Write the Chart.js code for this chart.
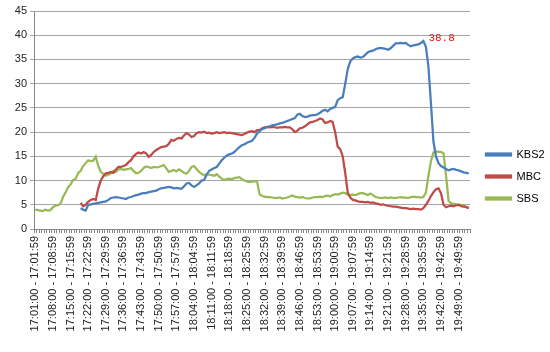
<!DOCTYPE html>
<html>
<head>
<meta charset="utf-8">
<script src="https://cdn.jsdelivr.net/npm/chart.js@4"></script>
<style>
html,body{margin:0;padding:0;background:#fff;}
#wrap{width:550px;height:352px;position:relative;}
</style>
</head>
<body>
<div id="wrap"><canvas id="c" width="550" height="352"></canvas></div>
<script>
// Categories: one per minute, 17:01 .. 19:53
const startMinute = 17 * 60 + 1;
const categoryCount = 173;
const tickEvery = 7;
const categories = [];
for (let k = 0; k < categoryCount; k++) {
  const m = startMinute + k;
  const hh = String(Math.floor(m / 60)).padStart(2, '0');
  const mm = String(m % 60).padStart(2, '0');
  categories.push(hh + ':' + mm + ':00 - ' + hh + ':' + mm + ':59');
}

const yTicks = [0, 5, 10, 15, 20, 25, 30, 35, 40, 45];

const kbs2 = [
  null,null,null,null,null,null,null,null,null,null,
  null,null,null,null,null,null,null,null,4.3,4.0,
  3.8,5.0,5.1,5.2,5.3,5.4,5.5,5.6,5.7,6.0,
  6.4,6.5,6.6,6.5,6.4,6.3,6.2,6.5,6.6,6.8,
  7.0,7.1,7.3,7.4,7.4,7.6,7.7,7.8,7.9,8.2,
  8.4,8.5,8.6,8.7,8.6,8.4,8.5,8.4,8.3,8.8,
  9.4,9.5,9.0,8.7,9.0,9.4,10.0,10.1,11.2,12.0,
  12.3,12.6,12.8,13.5,14.2,14.7,15.2,15.4,15.6,15.9,
  16.4,16.9,17.3,17.5,17.8,18.0,18.2,18.8,19.7,20.2,
  20.6,20.8,21.0,21.2,21.4,21.5,21.6,21.8,21.9,22.1,
  22.3,22.5,22.7,22.9,23.6,23.8,23.3,23.1,23.2,23.4,
  23.5,23.5,23.7,24.0,24.4,24.6,24.3,24.8,25.0,25.2,
  26.6,27.0,27.2,30.0,33.0,34.6,35.2,35.5,35.6,35.4,
  35.5,36.0,36.5,36.7,36.8,37.1,37.3,37.4,37.3,37.2,
  37.0,37.3,37.8,38.3,38.3,38.4,38.3,38.4,38.0,37.7,
  37.9,38.0,38.1,38.4,38.8,37.6,33.5,26.0,18.0,15.0,
  13.6,13.0,12.7,12.4,12.1,12.3,12.4,12.2,12.1,11.9,
  11.7,11.6,11.5
];

const mbc = [
  null,null,null,null,null,null,null,null,null,null,
  null,null,null,null,null,null,null,null,5.4,4.7,
  5.0,5.6,6.0,6.2,6.0,8.4,10.0,10.9,11.5,11.6,
  11.8,11.6,12.3,12.8,12.8,13.0,13.2,13.8,14.2,15.0,
  15.5,15.8,15.6,15.9,15.6,14.9,15.3,15.9,16.3,16.6,
  16.9,17.0,17.1,17.6,18.4,18.2,18.6,18.8,18.7,19.3,
  19.8,19.5,19.0,19.2,19.8,20.0,19.9,20.1,19.8,19.9,
  19.7,19.8,20.0,19.8,19.9,20.0,19.8,19.9,19.8,19.7,
  19.6,19.5,19.4,19.6,19.9,20.1,20.2,20.0,20.4,20.4,
  20.8,21.0,21.1,21.0,21.1,21.0,20.9,21.0,21.0,21.1,
  21.0,21.0,20.6,20.0,20.3,20.8,20.9,21.2,21.6,22.0,
  22.1,22.3,22.5,22.8,22.6,21.9,22.0,22.3,22.1,20.0,
  17.0,16.5,15.0,11.5,7.5,6.5,6.0,5.9,5.7,5.6,
  5.6,5.5,5.6,5.4,5.5,5.3,5.2,5.0,5.1,4.9,
  4.8,4.7,4.6,4.6,4.5,4.4,4.3,4.3,4.2,4.1,
  4.2,4.1,4.1,4.0,4.3,5.0,5.8,6.8,7.6,8.2,
  8.4,7.4,5.0,4.5,4.7,4.8,4.7,4.9,5.0,4.7,
  4.6,4.5,4.3
];

const sbs = [
  4.0,3.9,3.8,3.7,4.0,3.8,3.9,4.5,4.8,4.9,
  5.2,6.6,7.5,8.6,9.2,10.1,10.4,11.5,12.0,13.0,
  13.6,14.2,14.0,14.1,14.9,13.0,11.8,11.4,11.0,11.2,
  11.5,12.0,11.8,12.3,12.4,12.2,12.3,12.4,12.6,12.0,
  11.5,11.6,12.0,12.6,12.9,12.8,12.6,12.8,12.7,12.8,
  13.0,13.2,12.5,11.8,12.0,12.2,11.9,12.3,12.0,11.6,
  11.4,12.0,12.8,13.0,12.4,11.8,11.4,11.1,11.3,11.2,
  11.1,11.0,11.3,10.8,10.4,10.1,10.3,10.4,10.3,10.5,
  10.6,10.7,10.3,10.0,9.8,9.7,9.8,9.9,9.8,7.2,
  6.8,6.7,6.6,6.6,6.5,6.4,6.4,6.5,6.3,6.4,
  6.5,6.7,6.9,6.7,6.6,6.5,6.6,6.4,6.3,6.3,
  6.5,6.6,6.6,6.7,6.6,6.8,6.9,6.7,7.0,7.2,
  7.1,7.3,7.5,7.4,7.1,7.0,7.1,7.0,7.2,7.4,
  7.4,7.2,7.0,7.3,7.0,6.6,6.5,6.4,6.4,6.5,
  6.4,6.5,6.4,6.4,6.5,6.6,6.5,6.5,6.4,6.6,
  6.7,6.6,6.6,6.5,6.6,7.5,11.0,14.0,15.8,16.0,
  15.9,15.9,15.6,11.0,5.8,5.3,5.2,5.1,5.0,5.0,
  4.8,4.6,4.3
];

const seriesNames = ['KBS2', 'MBC', 'SBS'];
const seriesColors = ['#4a7ebb', '#be4b48', '#98b954'];
const seriesData = [kbs2, mbc, sbs];

const peakLabelPlugin = {
  id: 'peakLabel',
  afterDatasetsDraw(chart) {
    const meta = chart.getDatasetMeta(0);
    let best = -1, bestVal = -Infinity;
    kbs2.forEach((v, i) => { if (v !== null && v > bestVal) { bestVal = v; best = i; } });
    if (best < 0) return;
    const pt = meta.data[best];
    const ctx = chart.ctx;
    ctx.save();
    ctx.fillStyle = '#dd1111';
    ctx.font = '11px "Liberation Mono", "DejaVu Sans Mono", monospace';
    ctx.textAlign = 'left';
    ctx.textBaseline = 'middle';
    ctx.fillText(bestVal.toFixed(1), pt.x + 5, pt.y - 3);
    ctx.restore();
  }
};

const legendTunePlugin = {
  id: 'legendTune',
  afterInit(chart) {
    const lg = chart.legend;
    if (lg && !lg._wrapped) {
      const orig = lg.fit.bind(lg);
      lg.fit = function () { orig(); this.width = 80; };
      lg._wrapped = true;
    }
  },
  afterLayout(chart) {
    const lg = chart.legend;
    if (!lg) return;
    lg.left += 5; lg.right += 5;
    lg.top -= 5; lg.bottom -= 5;
  }
};

new Chart(document.getElementById('c'), {
  type: 'line',
  data: {
    labels: categories,
    datasets: seriesNames.map((n, k) => ({
      label: n,
      data: seriesData[k],
      borderColor: seriesColors[k],
      backgroundColor: seriesColors[k],
      borderWidth: 2.25,
      pointRadius: 0,
      pointHoverRadius: 0,
      tension: 0,
      fill: false,
      spanGaps: false
    }))
  },
  options: {
    responsive: false,
    animation: false,
    devicePixelRatio: 1,
    layout: { padding: { top: 11, left: 0, right: 0, bottom: 0 } },
    plugins: {
      legend: {
        position: 'right',
        labels: {
          boxWidth: 25,
          boxHeight: 2,
          padding: 11,
          color: '#000',
          font: { size: 11, family: '"Liberation Sans", Arial, sans-serif' }
        }
      },
      tooltip: { enabled: false }
    },
    scales: {
      x: {
        type: 'category',
        offset: true,
        afterFit(scale) { scale.height = 123; },
        border: { display: true, color: '#868686', width: 1 },
        grid: {
          offset: true,
          drawOnChartArea: false,
          drawTicks: true,
          tickLength: 4,
          color: '#868686'
        },
        ticks: {
          autoSkip: false,
          minRotation: 90,
          maxRotation: 90,
          padding: 3,
          color: '#222',
          font: { size: 11, family: '"Liberation Sans", Arial, sans-serif' },
          callback: (v, i) => (i % tickEvery === 0 ? categories[i] : '')
        }
      },
      y: {
        min: 0,
        max: 45,
        afterFit(scale) { scale.width = 34; },
        afterBuildTicks(scale) { scale.ticks = yTicks.map(v => ({ value: v })); },
        border: { display: true, color: '#868686', width: 1 },
        grid: {
          color: '#a6a6a6',
          lineWidth: 1,
          drawTicks: true,
          tickLength: 4
        },
        ticks: {
          padding: 3,
          color: '#222',
          font: { size: 11, family: '"Liberation Sans", Arial, sans-serif' }
        }
      }
    }
  },
  plugins: [peakLabelPlugin, legendTunePlugin]
});
</script>
</body>
</html>
